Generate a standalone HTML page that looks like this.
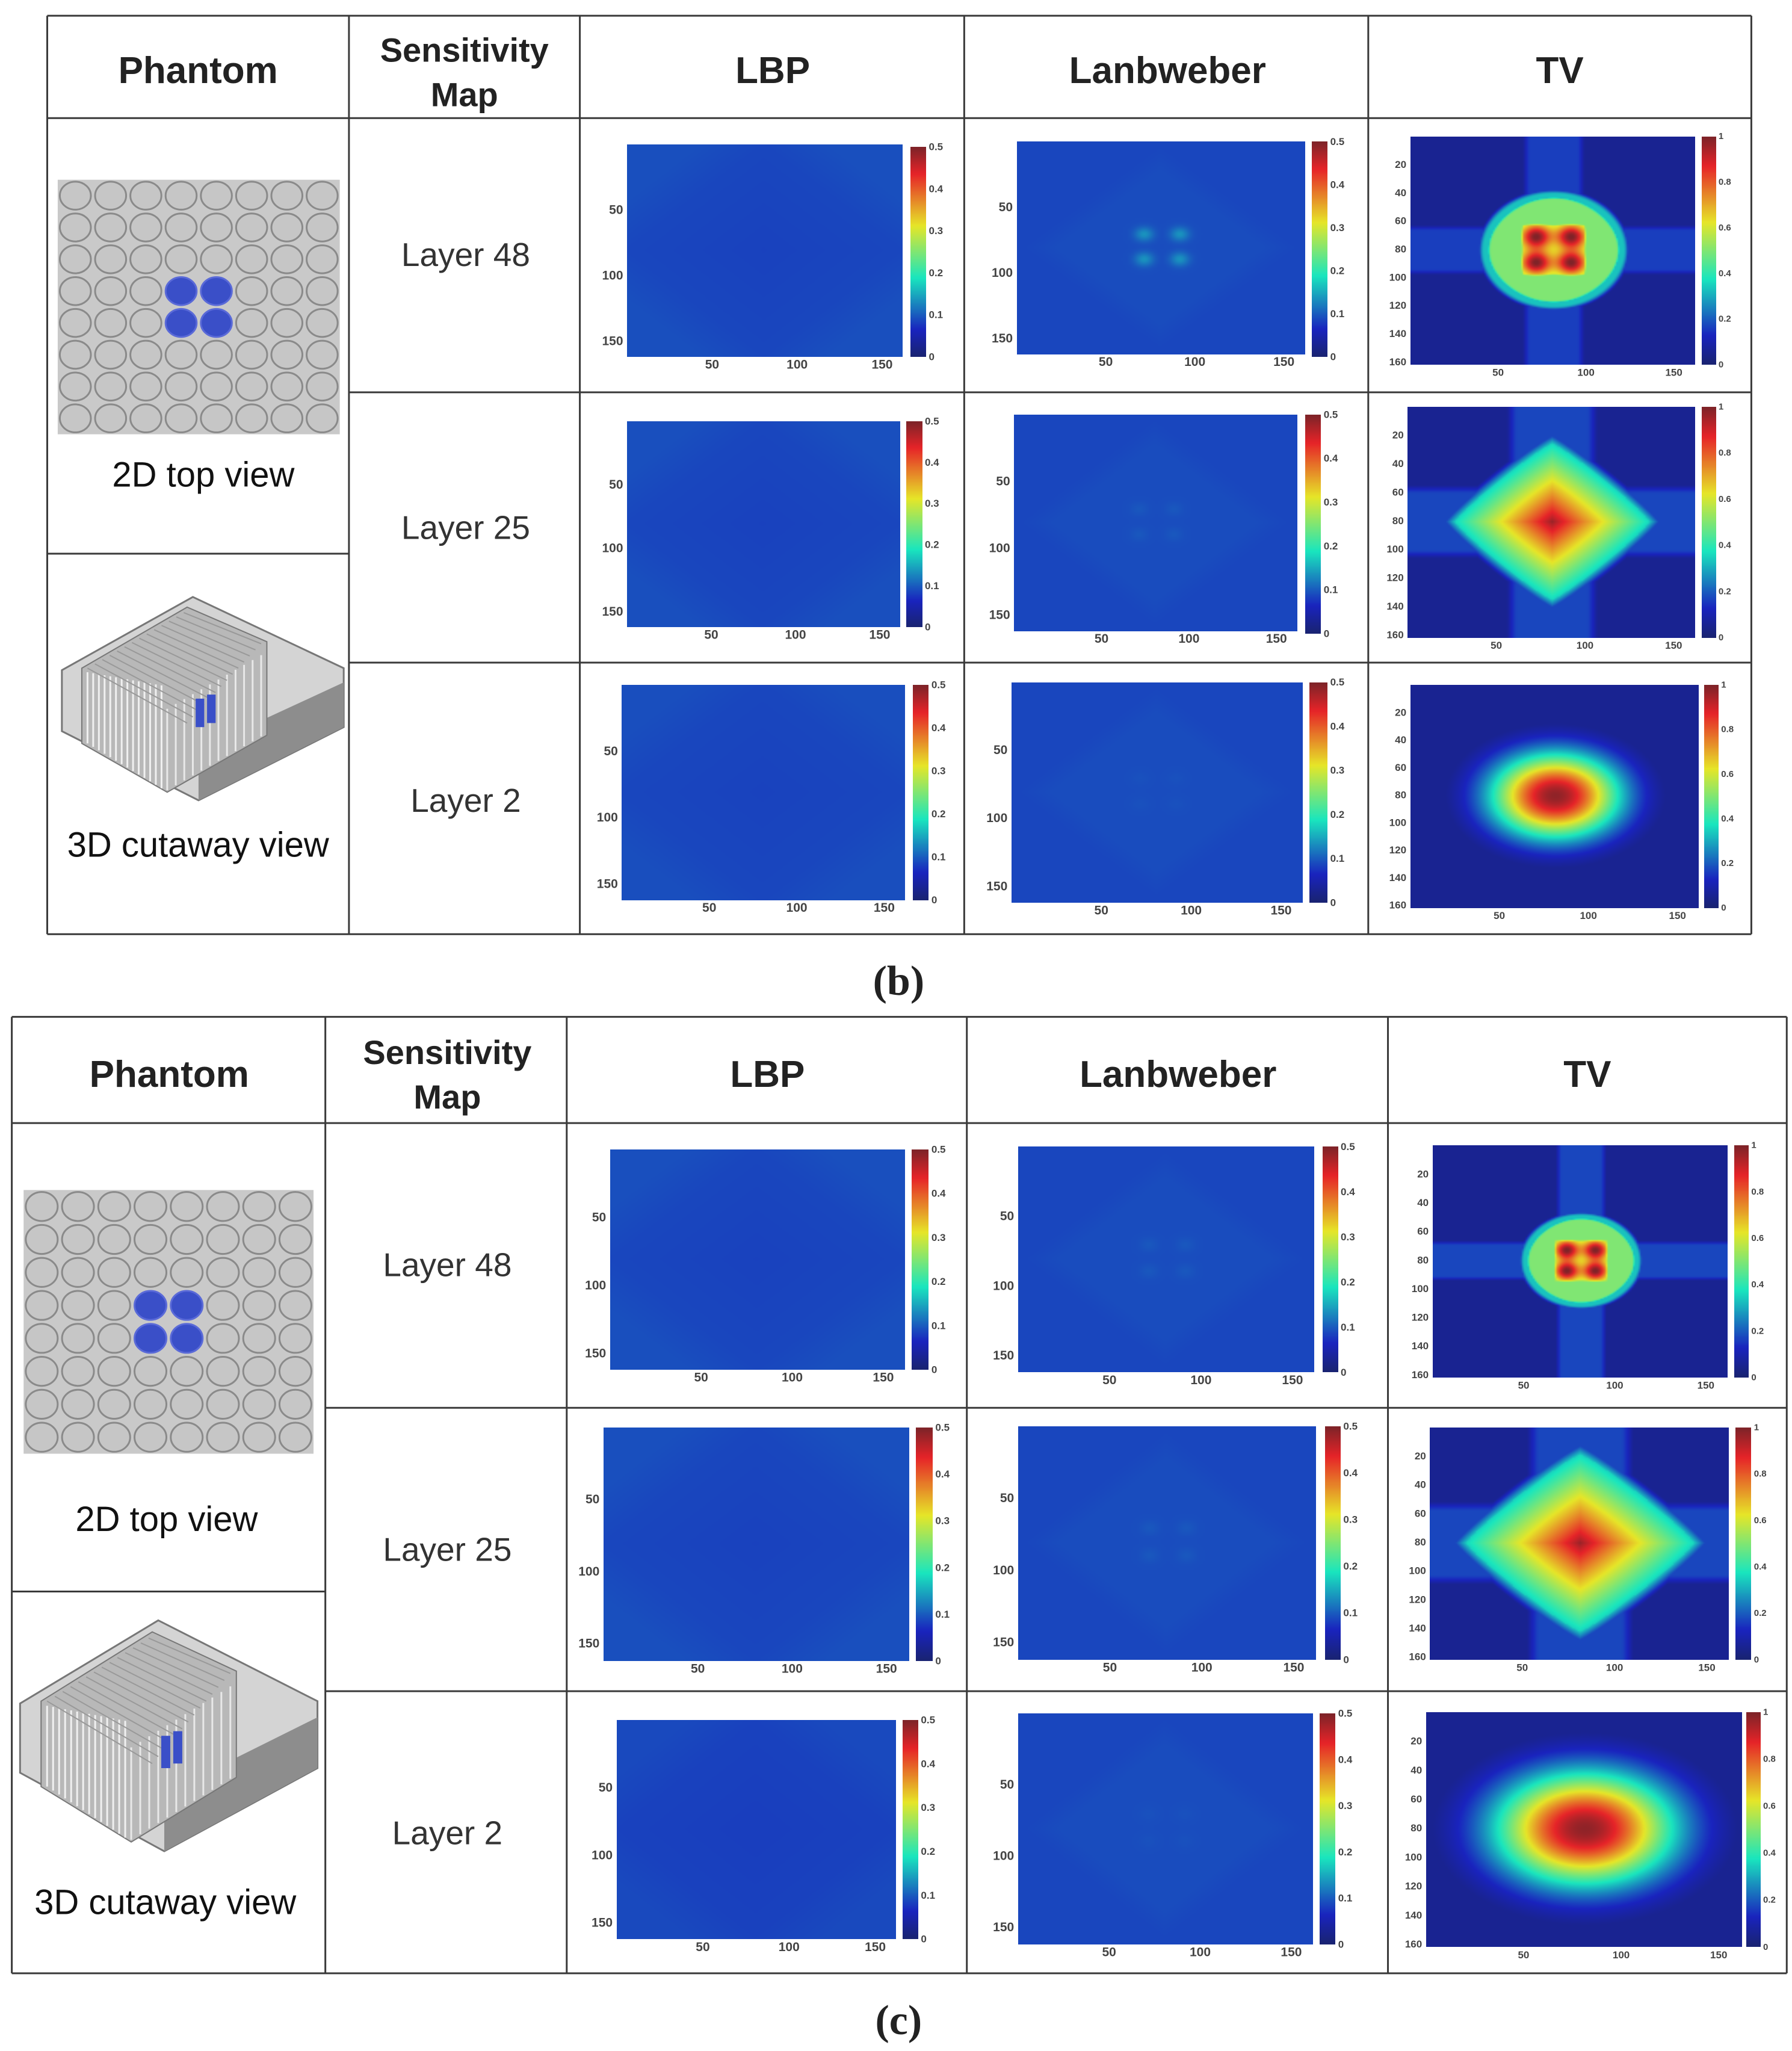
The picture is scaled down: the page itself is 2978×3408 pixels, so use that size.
<!DOCTYPE html>
<html><head><meta charset="utf-8">
<style>
html,body{margin:0;padding:0;background:#fff;}
#root{position:relative;width:2978px;height:3408px;overflow:hidden;background:#fff;}
canvas{position:absolute;}
svg{position:absolute;left:0;top:0;}
</style></head>
<body>
<div id="root">
<svg id="ov" width="2978" height="3408"></svg>
</div>
<script>
// ---------- data ----------
const panelNames = ['b-layer48','b-layer25','b-layer2','c-layer48','c-layer25','c-layer2'];
const lbpBase = [0.085,0.085,0.085,0.085,0.085,0.082];
const lbpVar = [0.006,0.006,0.005,0.006,0.006,0.005];
const lanbBase = [0.085,0.085,0.085,0.085,0.085,0.085];
const lanbSpot = [0.13,0.092,0.088,0.092,0.092,0.088];
const tvPeak = [1.0,0.97,0.98,1.0,0.97,0.98];
const tvShape = ['peaks','star','blob','peaks','star','blob'];
const tvSize = [38,55,30,30,62,38];
const tvBand = [0.16,0.17,0.0,0.17,0.17,0.0];
const lbTicks = [50,100,150];
const cbSmallTicks = [0,0.1,0.2,0.3,0.4,0.5];
const tvYTicks = [20,40,60,80,100,120,140,160];
const cbTvTicks = [0,0.2,0.4,0.6,0.8,1];

const S = 2978/1366;
const NS='http://www.w3.org/2000/svg';
const root=document.getElementById('root');
const ov=document.getElementById('ov');
function el(tag,attrs,parent){const e=document.createElementNS(NS,tag);for(const k in attrs)e.setAttribute(k,attrs[k]);(parent||ov).appendChild(e);return e;}
function txt(x,y,s,size,opts){opts=opts||{};const t=el('text',{x:x*S,y:y*S,'font-size':size,'text-anchor':opts.anchor||'middle','dominant-baseline':'central','font-family':opts.family||'"Liberation Sans", sans-serif','font-weight':opts.weight||'normal',fill:opts.fill||'#222'});t.textContent=s;return t;}

function clamp(v){return v<0?0:v>1?1:v;}
function jet(t){t=clamp(t);const r=clamp(1.5-Math.abs(4*t-3)),g=clamp(1.5-Math.abs(4*t-2)),b=clamp(1.5-Math.abs(4*t-1));
 return [25+r*205,35+g*195,40+b*150];}
function ss(a,b,x){const t=clamp((x-a)/(b-a));return t*t*(3-2*t);}

// ---------- table lines ----------
function line(x1,y1,x2,y2,name){const l=el('line',{x1:x1*S,y1:y1*S,x2:x2*S,y2:y2*S,stroke:'#3a3a3a','stroke-width':3});
 }
function table(L,R,T,H,r1,r2,B,cols,split,tag){
 line(L,T,R,T,tag+'-border-top');line(L,B,R,B,tag+'-border-bottom');line(L,T,L,B,tag+'-border-left');line(R,T,R,B,tag+'-border-right');
 line(L,H,R,H,tag+'-header-rule');line(cols[0],r1,R,r1,tag+'-row-rule');line(cols[0],r2,R,r2,tag+'-row-rule');
 line(L,split,cols[0],split,tag+'-phantom-rule');
 cols.forEach(c=>line(c,T,c,B,tag+'-col-rule'));
}
table(36,1335,12,90,299,505,712,[266,442,735,1043],422,'table-b');
table(9,1362,775,856,1073,1289,1504,[248,432,737,1058],1213,'table-c');

function header(y,xs,yS,tag){
 let t=txt(xs[0],y,'Phantom',62,{weight:'bold'});
 t=txt(xs[1],yS[0],'Sensitivity',56,{weight:'bold'});
 t=txt(xs[1],yS[1],'Map',56,{weight:'bold'});
 t=txt(xs[2],y,'LBP',62,{weight:'bold'});
 t=txt(xs[3],y,'Lanbweber',62,{weight:'bold'});
 t=txt(xs[4],y,'TV',62,{weight:'bold'});
}
header(54,[151,354,589,890,1189],[38,72],'b');
header(819,[129,341,585,898,1210],[802,836],'c');
[['Layer 48',355,194],['Layer 25',355,402],['Layer 2',355,610],['Layer 48',341,964],['Layer 25',341,1181],['Layer 2',341,1397]].forEach((a,i)=>{
 const t=txt(a[1],a[2],a[0],55,{fill:'#333'});});
[['2D top view',155,362],['3D cutaway view',151,644],['2D top view',127,1158],['3D cutaway view',126,1450]].forEach(a=>{
 const t=txt(a[1],a[2],a[0],58,{fill:'#111'});});
let cap=txt(685,748,'(b)',70,{family:'"Liberation Serif", serif',weight:'bold'});
cap=txt(685,1540,'(c)',70,{family:'"Liberation Serif", serif',weight:'bold'});

// ---------- phantoms ----------
function topView(x0,y0,x1,y1,name){
 const g=el('g',{});
 el('rect',{x:x0*S,y:y0*S,width:(x1-x0)*S,height:(y1-y0)*S,fill:'#c9c9c9'},g);
 const cw=(x1-x0)/8,ch=(y1-y0)/8;
 for(let i=0;i<8;i++)for(let j=0;j<8;j++){
  const blue=(i==3||i==4)&&(j==3||j==4);
  el('ellipse',{cx:(x0+cw*(i+0.5))*S,cy:(y0+ch*(j+0.5))*S,rx:cw*0.44*S,ry:ch*0.44*S,fill:blue?'#3a4fc8':'#c6c6c6',stroke:blue?'#5a6ad8':'#8a8a8a','stroke-width':3},g);
 }
}
topView(44,137,259,331,'phantom-2d-top-view-b');
topView(18,907,239,1108,'phantom-2d-top-view-c');
function cutaway(x0,y0,w,h,name){
 const g=el('g',{});
 const P=(u,v)=>((x0+u*w)*S)+','+((y0+v*h)*S);
 el('polygon',{points:[P(0.01,0.36),P(0.47,0.0),P(1,0.35),P(1,0.64),P(0.49,1),P(0.01,0.66)].join(' '),fill:'#d4d4d4',stroke:'#777','stroke-width':3},g);
 el('polygon',{points:[P(0.49,0.75),P(1,0.42),P(1,0.64),P(0.49,1)].join(' '),fill:'#8d8d8d'},g);
 el('polygon',{points:[P(0.08,0.35),P(0.45,0.05),P(0.73,0.22),P(0.73,0.68),P(0.38,0.96),P(0.08,0.72)].join(' '),fill:'#b8b8b8',stroke:'#777','stroke-width':2},g);
 for(let k=0;k<14;k++){const u=0.1+k*0.02;el('line',{x1:(x0+u*w)*S,y1:(y0+(0.37+k*0.005)*h)*S,x2:(x0+u*w)*S,y2:(y0+(0.72+k*0.017)*h)*S,stroke:'#f0f0f0','stroke-width':3},g);}
 for(let k=0;k<12;k++){const u=0.38+k*0.03;el('line',{x1:(x0+u*w)*S,y1:(y0+(0.55-k*0.024)*h)*S,x2:(x0+u*w)*S,y2:(y0+(0.95-k*0.024)*h)*S,stroke:'#e8e8e8','stroke-width':3},g);}
 for(let k=0;k<14;k++){el('line',{x1:(x0+(0.1+k*0.026)*w)*S,y1:(y0+(0.35-k*0.021)*h)*S,x2:(x0+(0.45+k*0.02)*w)*S,y2:(y0+(0.62-k*0.03)*h)*S,stroke:'#999','stroke-width':2},g);}
 el('rect',{x:(x0+0.48*w)*S,y:(y0+0.5*h)*S,width:0.03*w*S,height:0.14*h*S,fill:'#3a4fc8'},g);
 el('rect',{x:(x0+0.52*w)*S,y:(y0+0.48*h)*S,width:0.03*w*S,height:0.14*h*S,fill:'#3a4fc8'},g);
}
cutaway(45,455,217,155,'phantom-3d-cutaway-b');
cutaway(13,1235,229,176,'phantom-3d-cutaway-c');

// ---------- heatmaps ----------
const N=162;
function lbpVal(i,x,y){const dx=Math.abs(x-80),dy=Math.abs(y-80);const d=(dx+dy)/80;return lbpBase[i]+lbpVar[i]*(d<1?-0.5+0.5*d:Math.min(1,(d-1)*2));}
function lanbVal(i,x,y){let v=lanbBase[i];const pk=[[71,70],[91,70],[71,89],[91,89]];
 for(const p of pk){const d2=(x-p[0])**2+(y-p[1])**2;v=Math.max(v,lanbBase[i]+(lanbSpot[i]-lanbBase[i])*Math.exp(-d2/(2*14)));}
 const dx=Math.abs(x-80),dy=Math.abs(y-80);v+=0.004*(1-ss(55,80,dx+dy));return v;}
function tvVal(i,x,y){const dx=x-81,dy=y-80,R=tvSize[i],P=tvPeak[i];let v=0.05;
 const bw=R*0.44;
 if(tvBand[i]>0){const bh=tvBand[i]*(1-ss(bw*0.8,bw*1.2,Math.abs(dy)));const bv=tvBand[i]*(1-ss(bw*0.8,bw*1.2,Math.abs(dx)));v=Math.max(v,bh,bv);}
 if(tvShape[i]=='peaks'){const sc=R/38;
  const r=Math.pow(Math.pow(Math.abs(dx)/R,3)+Math.pow(Math.abs(dy)/R,3),1/3);
  const wob=0.06*Math.cos(4*Math.atan2(dy,dx));
  v=Math.max(v,0.5*(1-ss(0.88+wob,0.98+wob,r)));
  v=Math.max(v,0.33*(1-ss(0.98+wob,1.12+wob,r)));
  const pk=[[-10,-9.5],[10,-9.5],[-10,9],[10,9]];let s=0;
  for(const p of pk){const d2=(dx-p[0]*sc)**2+(dy-p[1]*sc)**2;s+=Math.exp(-d2/(2*(6*sc)**2));}
  v=Math.max(v,Math.min(P,0.5+0.5*s*P)*(ss(0.55,0.45,Math.max(Math.abs(dx),Math.abs(dy))/R)));
  v=Math.max(v,P*Math.min(1,s));
 } else if(tvShape[i]=='star'){
  const r1=Math.pow(Math.pow(Math.abs(dx)/R,1.1)+Math.pow(Math.abs(dy)/R,1.1),1/1.1);
  const r2=Math.sqrt(dx*dx+dy*dy)/(R*0.72);
  const r=Math.min(r1,r2);
  let s = r<1 ? P-0.62*Math.pow(r,0.9) : Math.max(0,0.33-(r-1)*1.8);
  v=Math.max(v,s);
 } else {
  const r2=(dx/R)**2+(dy/(R*0.85))**2;v=Math.max(v,P*Math.exp(-r2*0.7));
 }
 return v;}

function addText(x,y,s,size,anchor,name){const t=txt(x,y,s,size,{anchor:anchor,weight:'bold',fill:'#444'});}

function panel(kind,i,px0,px1,py0,py1,cx0,cx1,cy0,cy1){
 const max = kind=='tv'?1:0.5;
 const c=document.createElement('canvas');c.width=N;c.height=N;
 c.style.left=(px0*S)+'px';c.style.top=(py0*S)+'px';c.style.width=((px1-px0)*S)+'px';c.style.height=((py1-py0)*S)+'px';
 
 root.insertBefore(c,ov);
 const ctx=c.getContext('2d');const im=ctx.createImageData(N,N);
 for(let y=0;y<N;y++)for(let x=0;x<N;x++){
  const v= kind=='lbp'?lbpVal(i,x,y):kind=='lanb'?lanbVal(i,x,y):tvVal(i,x,y);
  const col=jet(v/max);const k=(y*N+x)*4;im.data[k]=col[0];im.data[k+1]=col[1];im.data[k+2]=col[2];im.data[k+3]=255;}
 ctx.putImageData(im,0,0);
 const cb=document.createElement('canvas');cb.width=1;cb.height=100;
 cb.style.left=(cx0*S)+'px';cb.style.top=(cy0*S)+'px';cb.style.width=((cx1-cx0)*S)+'px';cb.style.height=((cy1-cy0)*S)+'px';
 
 root.insertBefore(cb,ov);
 const c2=cb.getContext('2d');for(let y=0;y<100;y++){const col=jet(1-y/99);c2.fillStyle='rgb('+col.map(Math.round).join(',')+')';c2.fillRect(0,y,1,1);}
 const xs=v=>px0+(px1-px0)*v/N, ys=v=>py0+(py1-py0)*v/N;
 const fs = kind=='tv'?17:21;
 lbTicks.forEach(t=>addText(xs(t),py1+6,String(t),fs,'middle','x-tick-label'));
 const yt = kind=='tv'?tvYTicks:lbTicks;
 yt.forEach(t=>addText(px0-3,ys(t),String(t),fs,'end','y-tick-label'));
 const ct = kind=='tv'?cbTvTicks:cbSmallTicks;
 ct.forEach(t=>addText(cx1+2,cy1-(cy1-cy0)*t/max,String(t),kind=='tv'?15:17,'start','colorbar-tick-label'));
}
const L=[
 [[478,688,110,272,694,706,112,272],[775,995,108,270,1000,1012,108,272],[1075,1292,104,278,1297,1308,104,278]],
 [[478,686,321,478,691,703,321,478],[773,989,316,481,995,1007,316,483],[1073,1292,310,486,1297,1308,310,486]],
 [[474,690,522,686,696,708,522,686],[771,993,520,688,998,1012,520,688],[1075,1295,522,692,1299,1310,522,692]],
 [[465,690,876,1044,695,708,876,1044],[776,1002,874,1046,1008,1020,874,1046],[1092,1317,873,1050,1322,1333,873,1050]],
 [[460,693,1088,1266,698,711,1088,1266],[776,1003,1087,1265,1010,1022,1087,1265],[1090,1318,1088,1265,1323,1335,1088,1265]],
 [[470,683,1311,1478,688,700,1311,1478],[776,1001,1306,1482,1006,1018,1306,1482],[1087,1328,1305,1484,1331,1342,1305,1484]]
];
L.forEach((row,i)=>{panel('lbp',i,...row[0]);panel('lanb',i,...row[1]);panel('tv',i,...row[2]);});
</script>
</body></html>
